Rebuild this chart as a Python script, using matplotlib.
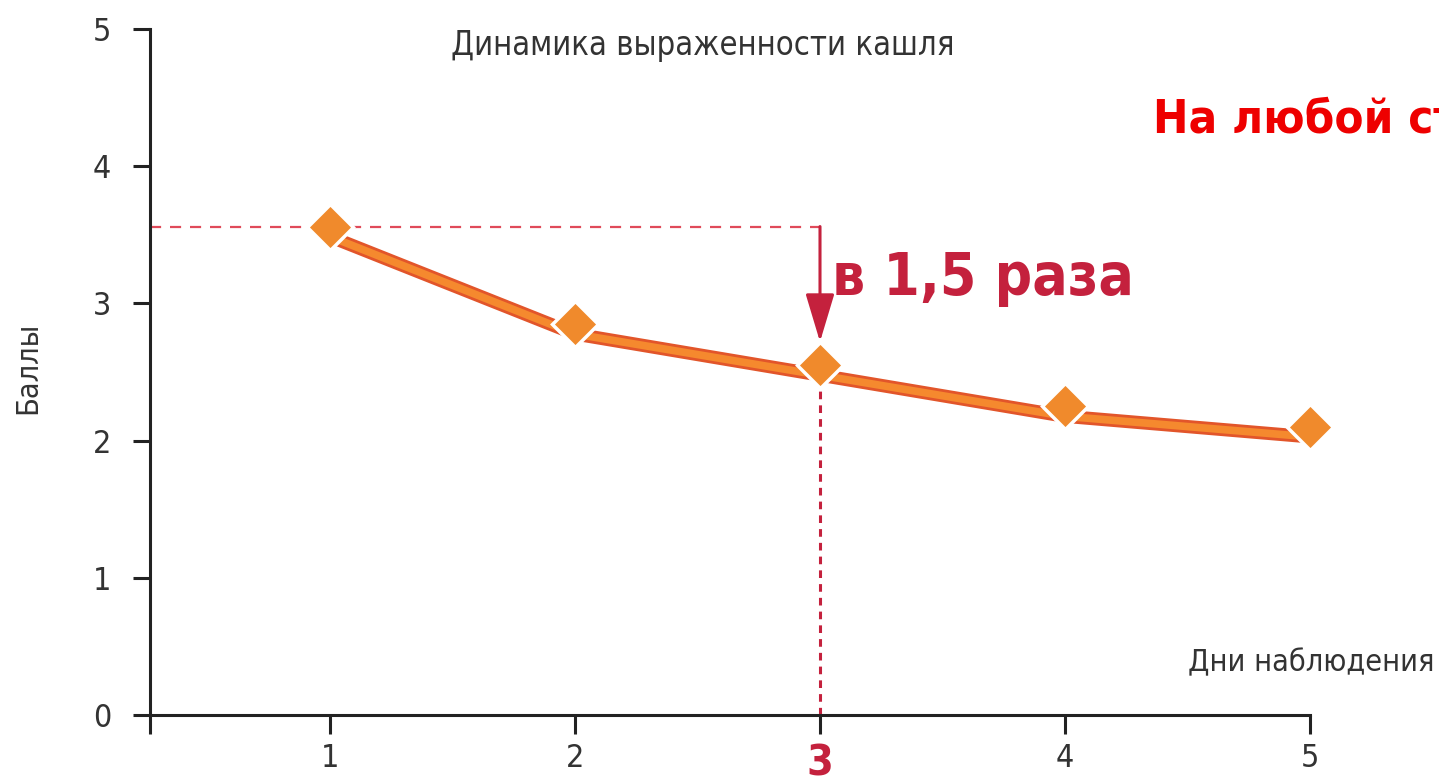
import matplotlib.pyplot as plt
from matplotlib import transforms

days = [1, 2, 3, 4, 5]
scores = [3.56, 2.85, 2.55, 2.25, 2.10]
y_ticks = [0, 1, 2, 3, 4, 5]
arrow_tip = 2.72
ratio_label = "в 1,5 раза"

plt.rcParams["font.family"] = ["DejaVu Sans"]
plt.rcParams["font.stretch"] = "condensed"

fig = plt.figure(figsize=(14.39, 7.84), dpi=100)
ax = fig.add_axes([150 / 1439, 1 - 715 / 784, 1160 / 1439, 686 / 784])

x_left = 1 - 180 / 245
ax.set_xlim(x_left, 5)
ax.set_ylim(0, 5)

# thick orange line, drawn a little below the markers
shift = transforms.offset_copy(ax.transData, fig=fig, x=0, y=-10, units="dots")
ax.plot(days, scores, color="#E2552A", lw=9.5, solid_capstyle="butt",
        solid_joinstyle="miter", transform=shift, zorder=3)
ax.plot(days, scores, color="#F5892E", lw=5.5, solid_capstyle="butt",
        solid_joinstyle="miter", transform=shift, zorder=3)
ax.plot(days, scores, linestyle="none", marker="D", markersize=23,
        markerfacecolor="#F08A2C", markeredgecolor="white",
        markeredgewidth=2.5, zorder=4, clip_on=False)

# reference lines for day 3
ax.plot([x_left, days[2]], [scores[0], scores[0]], color="#E04A5A", lw=1.6,
        dashes=(5, 4), zorder=2)
ax.annotate("", xy=(days[2], arrow_tip), xytext=(days[2], scores[0]),
            arrowprops=dict(arrowstyle="-|>,head_width=0.9,head_length=3.0",
                            color="#C4213D", lw=2.2, shrinkA=0, shrinkB=0,
                            mutation_scale=10),
            zorder=5)
ax.plot([days[2], days[2]], [0, scores[2] - 0.18], color="#C4213D", lw=2.2,
        dashes=(2.5, 2), zorder=2)
ax.text(days[2] + 0.05, 3.18, ratio_label, color="#C4213D", fontsize=42,
        fontweight="bold", ha="left", va="center")

# axes styling
for side in ["top", "right"]:
    ax.spines[side].set_visible(False)
for side in ["left", "bottom"]:
    ax.spines[side].set_linewidth(2.2)
    ax.spines[side].set_color("#222222")

ax.set_yticks(y_ticks)
ax.set_xticks([x_left] + days)
ax.set_xticklabels([""] + [str(d) for d in days])
ax.tick_params(axis="y", direction="out", length=12, width=2.2,
               color="#222222", labelsize=23, labelcolor="#333333", pad=16)
ax.tick_params(axis="x", direction="out", length=14, width=2.2,
               color="#222222", labelsize=23, labelcolor="#333333", pad=6)
lab3 = ax.get_xticklabels()[3]
lab3.set_color("#C4213D")
lab3.set_fontweight("bold")
lab3.set_fontsize(31)

fig.text(703 / 1439, 1 - 45 / 784, "Динамика выраженности кашля",
         ha="center", va="center", fontsize=23.5, color="#333333")
fig.text(28 / 1439, 1 - 368 / 784, "Баллы", rotation=90,
         ha="center", va="center", fontsize=22, color="#333333")
fig.text(1435 / 1439, 1 - 663 / 784, "Дни наблюдения",
         ha="right", va="center", fontsize=22, color="#333333")
fig.text(1153 / 1439, 1 - 120 / 784, "На любой ст",
         ha="left", va="center", fontsize=34, fontweight="bold",
         color="#EE0000")

fig.savefig("out.png", dpi=100)
